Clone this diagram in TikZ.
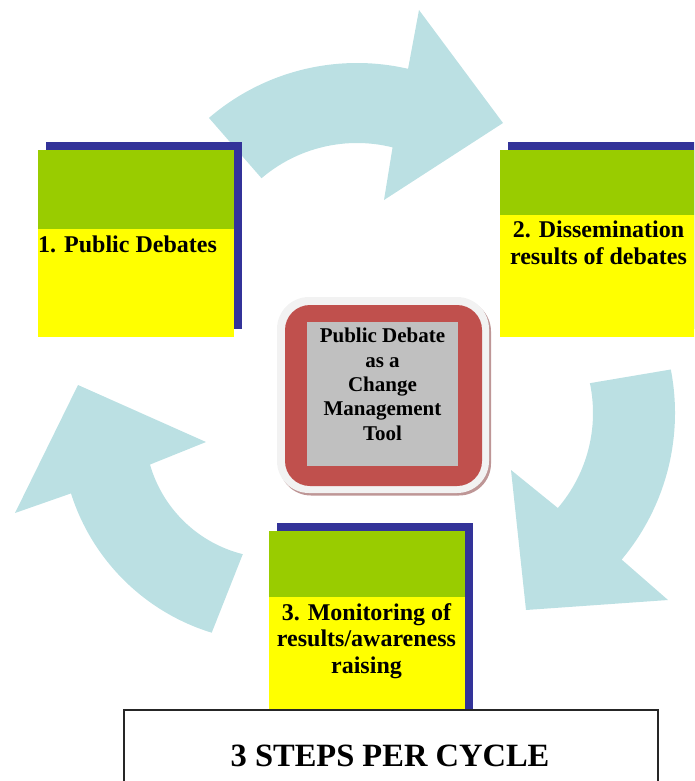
\documentclass[tikz,border=0pt]{standalone}
\usepackage{fontspec}
\setmainfont{Liberation Serif}
\usepackage{tikz}
\usetikzlibrary{calc,positioning}
\usepackage{xcolor}
\definecolor{cyclecyan}{RGB}{187,224,227}
\definecolor{stepgreen}{RGB}{153,204,0}
\definecolor{stepyellow}{RGB}{255,255,0}
\definecolor{stepnavy}{RGB}{51,51,153}
\definecolor{hubred}{RGB}{192,80,77}
\definecolor{hubgray}{RGB}{192,192,192}
\definecolor{hubwhite}{RGB}{242,242,242}
\definecolor{hubshade}{RGB}{190,150,150}
\tikzstyle{cyclearrow} = [fill=cyclecyan, draw=none]
\tikzstyle{backbox} = [rectangle, fill=stepnavy, minimum width=196pt, minimum height=187pt, inner sep=0pt, anchor=north west]
\tikzstyle{topbox} = [rectangle, fill=stepgreen, minimum width=196pt, inner sep=0pt, anchor=north west]
\tikzstyle{lowbox} = [rectangle, fill=stepyellow, minimum width=196pt, inner sep=0pt, anchor=north west]
\tikzstyle{steptext} = [font=\fontsize{24}{26.5}\selectfont\bfseries, align=center, inner sep=0pt]
\tikzstyle{hubtext} = [font=\fontsize{21}{24.3}\selectfont\bfseries, align=center, inner sep=0pt]

\begin{document}
\begin{tikzpicture}[x=1pt, y=-1pt]
\useasboundingbox (0,0) rectangle (694,781);
\clip (0,0) rectangle (694,781);

% Cycle arrows
\coordinate (c1) at (357,290);
\coordinate (c2) at (447,413);
\coordinate (c3) at (274,429);
\fill[cyclearrow] ($(c1)+(-130.7:227)$) arc[start angle=-130.7, end angle=-77, radius=227]
  -- (419,10) -- (503,123) -- (384,200)
  -- ($(c1)+(-76:147)$) arc[start angle=-76, end angle=-130.5, radius=147] -- cycle;
\fill[cyclearrow] ($(c2)+(-11:228)$) arc[start angle=-11, end angle=40, radius=228]
  -- (668,600) -- (526,610) -- (511,470)
  -- ($(c2)+(40.6:146)$) arc[start angle=40.6, end angle=-11.8, radius=146] -- cycle;
\fill[cyclearrow] ($(c3)+(107:213)$) arc[start angle=107, end angle=162.4, radius=213]
  -- (15,513) -- (78,385) -- (206,442)
  -- ($(c3)+(164:129)$) arc[start angle=164, end angle=104, radius=129] -- cycle;

% Step 1
\node[backbox] (back1) at (46,142) {};
\node[lowbox, minimum height=108pt] (low1) at (38,229) {};
\node[topbox, minimum height=79pt] (top1) at (38,150) {};
\node[steptext, anchor=base west] (label1) at (38,252) {1. Public Debates};

% Step 2
\node[backbox] (back2) at (508,142) {};
\node[lowbox, minimum height=122pt] (low2) at (500,215) {};
\node[topbox, minimum height=65pt] (top2) at (500,150) {};
\node[steptext] (label2) at (598.5,243) {2. Dissemination\\results of debates};

% Step 3
\node[backbox] (back3) at (277,523) {};
\node[lowbox, minimum height=121pt] (low3) at (269,597) {};
\node[topbox, minimum height=66pt] (top3) at (269,531) {};
\node[steptext] (label3) at (366.5,641) {3. Monitoring of\\results/awareness\\raising};

% Centre
\node[rectangle, rounded corners=32pt, fill=hubshade, minimum width=212pt, minimum height=196pt] (hubshadow) at (385,397.5) {};
\node[rectangle, rounded corners=32pt, fill=hubwhite, minimum width=212pt, minimum height=196pt] (hubframe) at (383,395) {};
\node[rectangle, rounded corners=25pt, fill=hubred, minimum width=197pt, minimum height=181pt] (hubring) at (383.5,395.5) {};
\node[rectangle, fill=hubgray, minimum width=151pt, minimum height=144pt] (hubcore) at (382.5,394) {};
\node[hubtext] (hublabel) at (382.5,384.4) {Public Debate\\as a\\Change\\Management\\Tool};

% Caption
\node[rectangle, draw=black!85, line width=1.5pt, fill=white, minimum width=534pt, minimum height=110pt, anchor=north west] (capbox) at (123,709) {};
\node[font=\fontsize{32.5}{36}\selectfont\bfseries, anchor=base, inner sep=0pt] (caption) at (390,766) {3 STEPS PER CYCLE};
\end{tikzpicture}
\end{document}
